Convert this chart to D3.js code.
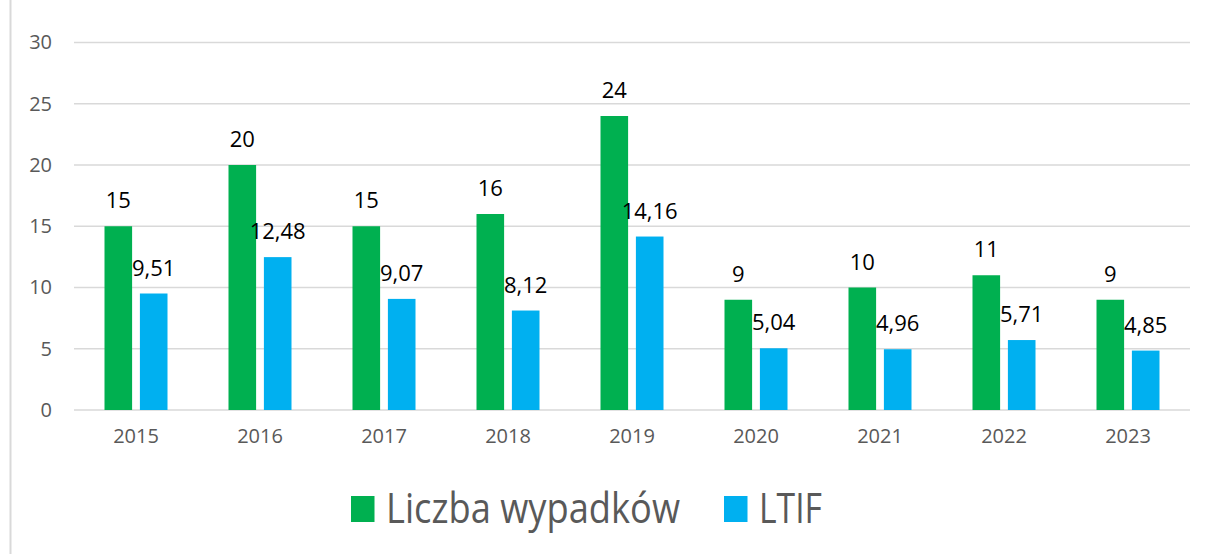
<!DOCTYPE html>
<html>
<head>
<meta charset="utf-8">
<script src="https://cdn.jsdelivr.net/npm/d3@7"></script>
<style>
  body { margin: 0; background: #fff; }
  svg { display: block; font-family: "Open Sans", sans-serif; }
</style>
</head>
<body>
<div id="chartContainer"></div>
<script>
const years = ['2015', '2016', '2017', '2018', '2019', '2020', '2021', '2022', '2023'];
const seriesNames = ['Liczba wypadków', 'LTIF'];
const accidents = [15, 20, 15, 16, 24, 9, 10, 11, 9];
const ltif = [9.51, 12.48, 9.07, 8.12, 14.16, 5.04, 4.96, 5.71, 4.85];
const yTicks = [0, 5, 10, 15, 20, 25, 30];
const colors = ['#00B050', '#00B0F0'];

const width = 1206;
const height = 554;
const margin = { top: 42.5, right: 16, bottom: 144, left: 74 };

const rows = years.map((y, i) => ({ year: y, values: [accidents[i], ltif[i]] }));

const svg = d3.select('#chartContainer')
    .append('svg')
    .attr('width', width)
    .attr('height', height);

// thin frame line on the left edge
svg.append('line')
    .attr('x1', 10.5).attr('x2', 10.5)
    .attr('y1', 0).attr('y2', height)
    .attr('stroke', '#D9D9D9')
    .attr('stroke-width', 2);

const scaleX = d3.scaleBand()
    .domain(years)
    .range([margin.left, width - margin.right]);

const scaleInner = d3.scaleBand()
    .domain([0, 1])
    .range([30.5, 93.5])
    .paddingInner(0.22);

const scaleY = d3.scaleLinear()
    .domain([0, 30])
    .range([height - margin.bottom, margin.top]);

// gridlines
svg.append('g')
    .selectAll('line')
    .data(yTicks)
    .enter()
    .append('line')
    .attr('x1', margin.left)
    .attr('x2', width - margin.right)
    .attr('y1', d => scaleY(d))
    .attr('y2', d => scaleY(d))
    .attr('stroke', '#D9D9D9')
    .attr('stroke-width', 1.5);

// Y Axis
const yAxis = svg.append('g')
    .attr('transform', `translate(${margin.left}, 0)`)
    .call(d3.axisLeft(scaleY).tickValues(yTicks).tickSize(0).tickPadding(22));
yAxis.select('.domain').remove();
yAxis.selectAll('text')
    .style('font-size', '20px')
    .style('font-family', '"Open Sans", sans-serif')
    .attr('fill', '#595959');

// X Axis
const xAxis = svg.append('g')
    .attr('transform', `translate(0, ${height - margin.bottom})`)
    .call(d3.axisBottom(scaleX).tickSize(0).tickPadding(19));
xAxis.select('.domain').remove();
xAxis.selectAll('text')
    .style('font-size', '20px')
    .style('font-family', '"Open Sans", sans-serif')
    .attr('fill', '#595959');

// bars
const groups = svg.append('g')
    .selectAll('g')
    .data(rows)
    .enter()
    .append('g')
    .attr('transform', d => `translate(${scaleX(d.year)}, 0)`);

groups.selectAll('rect')
    .data(d => d.values)
    .enter()
    .append('rect')
    .attr('x', (d, i) => scaleInner(i))
    .attr('width', scaleInner.bandwidth())
    .attr('y', d => scaleY(d))
    .attr('height', d => scaleY(0) - scaleY(d))
    .attr('fill', (d, i) => colors[i]);

const fmt = v => Number.isInteger(v) ? String(v) : v.toFixed(2).replace('.', ',');

groups.selectAll('text')
    .data(d => d.values)
    .enter()
    .append('text')
    .attr('x', (d, i) => scaleInner(i) + scaleInner.bandwidth() / 2)
    .attr('y', d => scaleY(d) - 18)
    .attr('text-anchor', 'middle')
    .style('font-size', '22px')
    .attr('fill', '#000')
    .text(d => fmt(d));

// legend
const legendItems = [
    { name: seriesNames[0], color: colors[0], x: 351, len: 294 },
    { name: seriesNames[1], color: colors[1], x: 724, len: 63 }
];
const legend = svg.append('g')
    .selectAll('g')
    .data(legendItems)
    .enter()
    .append('g')
    .attr('transform', d => `translate(${d.x}, 0)`);

legend.append('rect')
    .attr('x', 0)
    .attr('y', 496)
    .attr('width', 23.5)
    .attr('height', 26)
    .attr('fill', d => d.color);

legend.append('text')
    .attr('x', 35)
    .attr('y', 523)
    .style('font-size', '42px')
    .attr('fill', '#595959')
    .attr('textLength', d => d.len)
    .attr('lengthAdjust', 'spacingAndGlyphs')
    .text(d => d.name);
</script>
</body>
</html>
